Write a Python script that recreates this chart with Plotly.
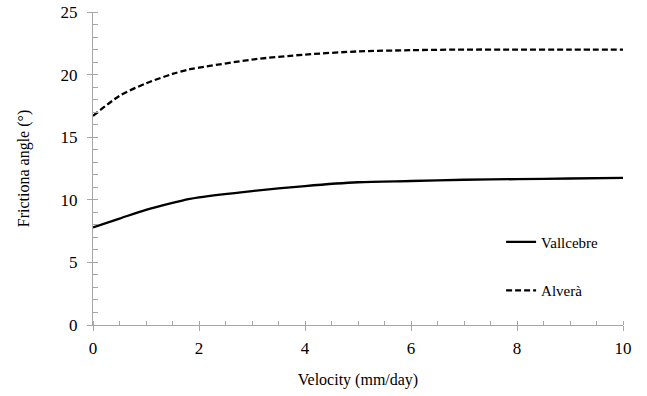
import plotly.graph_objects as go

vel_v = [0, 0.5, 1, 1.5, 1.8, 2, 3, 4, 5, 6, 7, 8, 9, 10]
ang_v = [7.8, 8.5, 9.2, 9.75, 10.05, 10.2, 10.7, 11.1, 11.4, 11.5, 11.6, 11.65, 11.7, 11.75]
vel_a = [0, 0.5, 1, 1.5, 1.8, 2, 3, 4, 5, 6, 7, 8, 9, 10]
ang_a = [16.7, 18.3, 19.3, 20.05, 20.4, 20.55, 21.2, 21.6, 21.85, 21.95, 22.0, 22.0, 22.0, 22.0]

FONT = "'Times New Roman', 'Liberation Serif', 'DejaVu Serif', serif"
AX = "#a6a6a6"

fig = go.Figure()
fig.add_trace(go.Scatter(x=vel_v, y=ang_v, mode="lines", name="Vallcebre",
                         line=dict(color="black", width=2.3, shape="spline", smoothing=0.8),
                         legend="legend"))
fig.add_trace(go.Scatter(x=vel_a, y=ang_a, mode="lines", name="Alverà",
                         line=dict(color="black", width=2.3, dash="6px,3px", shape="spline", smoothing=0.8),
                         legend="legend2"))
# invisible trace to carry inside major ticks
fig.add_trace(go.Scatter(x=[0, 10], y=[0, 25], mode="markers", marker=dict(opacity=0),
                         xaxis="x2", yaxis="y2", showlegend=False, hoverinfo="skip"))

common = dict(showgrid=False, zeroline=False, showline=True, linecolor=AX, linewidth=1,
              tickcolor=AX, ticklen=5, tickwidth=1, automargin=False,
              tickfont=dict(family=FONT, size=17, color="black"))

fig.update_layout(
    width=647, height=396,
    margin=dict(l=93, r=24, t=12, b=71),
    paper_bgcolor="white", plot_bgcolor="white",
    font=dict(family=FONT, size=16, color="black"),
    xaxis=dict(range=[0, 10], dtick=2, ticks="outside",
               title=dict(text="Velocity (mm/day)", font=dict(family=FONT, size=16), standoff=16),
               minor=dict(dtick=0.5, ticks="inside", ticklen=4, tickcolor=AX),
               ticklabelstandoff=3, **common),
    yaxis=dict(range=[0, 25], dtick=5, ticks="outside",
               title=dict(text="Frictiona angle (°)", font=dict(family=FONT, size=16), standoff=26),
               minor=dict(dtick=1, ticks="inside", ticklen=5, tickcolor=AX),
               ticklabelstandoff=6, **common),
    xaxis2=dict(range=[0, 10], dtick=2, ticks="inside", ticklen=4, tickcolor=AX, automargin=False,
                showticklabels=False, showgrid=False, zeroline=False, overlaying="x", anchor="y"),
    yaxis2=dict(range=[0, 25], dtick=5, ticks="inside", ticklen=5, tickcolor=AX, automargin=False,
                showticklabels=False, showgrid=False, zeroline=False, overlaying="y", anchor="x"),
    legend=dict(x=0.77, y=0.265, xanchor="left", yanchor="middle", bgcolor="rgba(0,0,0,0)",
                font=dict(family=FONT, size=15)),
    legend2=dict(x=0.77, y=0.11, xanchor="left", yanchor="middle", bgcolor="rgba(0,0,0,0)",
                 font=dict(family=FONT, size=15)),
)

fig.write_html("out.html")
